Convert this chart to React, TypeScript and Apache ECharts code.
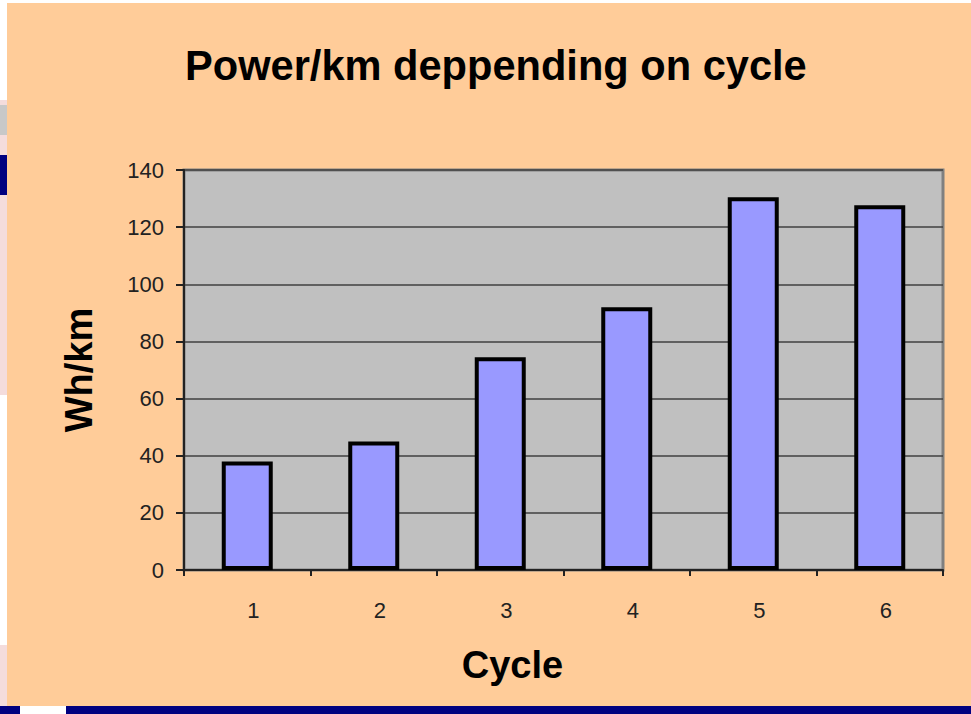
import React, { useEffect, useRef } from 'react';
import * as echarts from 'echarts';

const categories = ['1', '2', '3', '4', '5', '6'];
const values = [38, 45, 74.5, 92, 130.5, 127.7];
const yMin = 0;
const yMax = 140;
const yInterval = 20;
const titleText = 'Power/km deppending on cycle';
const yName = 'Wh/km';
const xName = 'Cycle';

const FONT = "'Liberation Sans', Arial, sans-serif";

export default function App() {
  const ref = useRef<HTMLDivElement>(null);
  useEffect(() => {
    const chart = echarts.init(ref.current!, null, { renderer: 'svg' });
    chart.setOption({
      animation: false,
      backgroundColor: '#FFCC99',
      title: {
        text: titleText,
        left: 185,
        top: 44,
        padding: 0,
        textStyle: { fontSize: 41.6, fontWeight: 'bold', color: '#000', fontFamily: FONT },
      },
      graphic: [
        { type: 'rect', shape: { x: 0, y: 0, width: 971, height: 3 }, style: { fill: '#FFFFFF' }, silent: true },
        { type: 'rect', shape: { x: 0, y: 0, width: 7, height: 714 }, style: { fill: '#F4DCDC' }, silent: true },
        { type: 'rect', shape: { x: 0, y: 0, width: 7, height: 100 }, style: { fill: '#FFFFFF' }, silent: true },
        { type: 'rect', shape: { x: 0, y: 105, width: 7, height: 30 }, style: { fill: '#C8C8C8' }, silent: true },
        { type: 'rect', shape: { x: 0, y: 155, width: 7, height: 40 }, style: { fill: '#000080' }, silent: true },
        { type: 'rect', shape: { x: 0, y: 395, width: 7, height: 250 }, style: { fill: '#FFFFFF' }, silent: true },
        { type: 'rect', shape: { x: 0, y: 706, width: 971, height: 8 }, style: { fill: '#000080' }, silent: true },
        { type: 'rect', shape: { x: 20, y: 706, width: 46, height: 8 }, style: { fill: '#FFFFFF' }, silent: true },
      ],
      grid: {
        left: 184,
        right: 28,
        top: 170,
        bottom: 144,
        show: true,
        backgroundColor: '#C0C0C0',
        borderColor: '#808080',
        borderWidth: 3,
        outerBoundsMode: 'none',
      },
      xAxis: {
        type: 'category',
        data: categories,
        boundaryGap: true,
        name: xName,
        nameLocation: 'middle',
        nameGap: 76,
        nameTextStyle: {
          fontSize: 38,
          fontWeight: 'bold',
          color: '#000',
          fontFamily: FONT,
          padding: [0, 102, 0, 0],
        },
        axisLine: { show: true, lineStyle: { color: '#222', width: 2 } },
        axisTick: { show: true, length: 6, alignWithLabel: false, lineStyle: { color: '#222', width: 2 } },
        axisLabel: { margin: 29, fontSize: 22, color: '#222', fontFamily: FONT, padding: [0, 0, 0, 12] },
        splitLine: { show: false },
      },
      yAxis: {
        type: 'value',
        min: yMin,
        max: yMax,
        interval: yInterval,
        name: yName,
        nameLocation: 'middle',
        nameGap: 86,
        nameTextStyle: { fontSize: 38, fontWeight: 'bold', color: '#000', fontFamily: FONT },
        axisLine: { show: true, lineStyle: { color: '#222', width: 2 } },
        axisTick: { show: true, length: 8, lineStyle: { color: '#222', width: 2 } },
        axisLabel: { margin: 20, fontSize: 22, color: '#222', fontFamily: FONT },
        splitLine: { show: true, lineStyle: { color: '#404040', width: 1.5 } },
      },
      series: [
        {
          type: 'bar',
          data: values,
          barWidth: 51,
          itemStyle: { color: '#9999FF', borderColor: '#000', borderWidth: 4 },
        },
      ],
    });
    return () => chart.dispose();
  }, []);
  return <div ref={ref} style={{ position: 'absolute', left: 0, top: 0, width: 971, height: 714 }} />;
}
